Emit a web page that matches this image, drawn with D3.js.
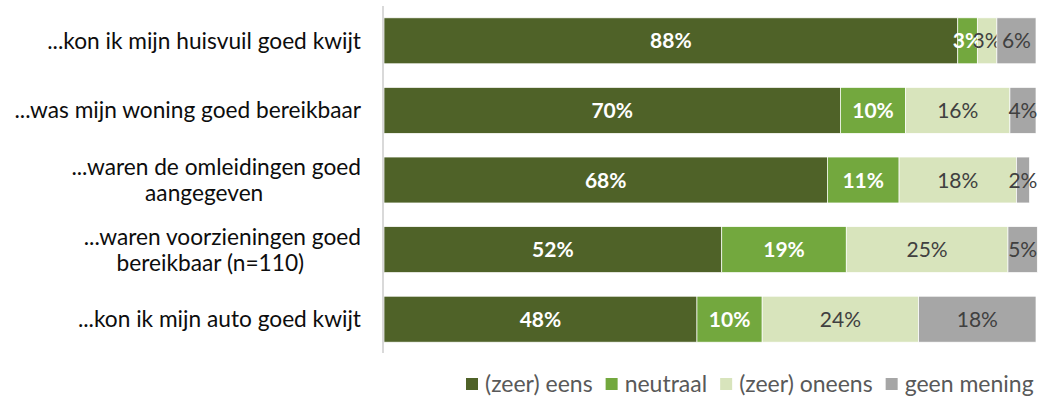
<!DOCTYPE html>
<html>
<head>
<meta charset="utf-8">
<script src="https://d3js.org/d3.v7.min.js"></script>
<style>
  body { margin: 0; background: #fff; }
  svg { font-family: Lato, "Open Sans", sans-serif; }
  .cat { font-size: 22.7px; fill: #0d0d0d; }
  .val { font-size: 21px; }
  .leg { font-size: 23px; fill: #595959; }
</style>
</head>
<body>
<svg width="1039" height="397"></svg>
<script>
// categories (each line of a wrapped label is a separate entry)
var categories = [
  ["...kon ik mijn huisvuil goed kwijt"],
  ["...was mijn woning goed bereikbaar"],
  ["...waren de omleidingen goed", "aangegeven"],
  ["...waren voorzieningen goed", "bereikbaar (n=110)"],
  ["...kon ik mijn auto goed kwijt"]
];
var series = ["(zeer) eens", "neutraal", "(zeer) oneens", "geen mening"];
// percentages per category, same order as series
var eens     = [88, 70, 68, 51.8, 48];
var neutraal = [3, 10, 11, 19.1, 10];
var oneens   = [3, 16, 18, 24.8, 24];
var geen     = [6, 4, 2, 4.5, 18];

var colors = ["#4F6228", "#73A83E", "#D8E4BC", "#A6A6A6"];
var labelColors = ["#fff", "#fff", "#404040", "#404040"];
var labelWeights = ["bold", "bold", "normal", "normal"];

var svg = d3.select("svg");

var rows = categories.map(function(c, i) {
  return { i: i, lines: c, eens: eens[i], neutraal: neutraal[i], oneens: oneens[i], geen: geen[i] };
});
var keys = ["eens", "neutraal", "oneens", "geen"];
var stacked = d3.stack().keys(keys)(rows);

var x = d3.scaleLinear().domain([0, 100]).range([384, 1036]);
var y = d3.scaleBand().domain(d3.range(categories.length)).range([6, 354]).paddingInner(0.34).paddingOuter(0.17);

// bars
var layer = svg.selectAll("g.layer")
  .data(stacked)
  .enter().append("g")
  .attr("class", "layer");

layer.selectAll("rect")
  .data(function(d) { return d; })
  .enter().append("rect")
  .attr("x", function(d) { return x(d[0]); })
  .attr("y", function(d) { return y(d.data.i); })
  .attr("width", function(d) { return x(d[1]) - x(d[0]); })
  .attr("height", y.bandwidth())
  .attr("fill", function(d) { return colors[d3.select(this.parentNode).datum().index]; })
  .attr("stroke", "#fff")
  .attr("stroke-width", 0.7);

// value labels
layer.each(function(s) {
  d3.select(this).selectAll("text")
    .data(s)
    .enter().append("text")
    .attr("class", "val")
    .attr("x", function(d) { return (x(d[0]) + x(d[1])) / 2; })
    .attr("y", function(d) { return y(d.data.i) + y.bandwidth() / 2; })
    .attr("dy", "0.36em")
    .attr("text-anchor", "middle")
    .attr("fill", labelColors[s.index])
    .attr("font-weight", labelWeights[s.index])
    .text(function(d) { return Math.round(d[1] - d[0]) + "%"; });
});

// axis line
svg.append("line")
  .attr("x1", 383).attr("x2", 383)
  .attr("y1", 6).attr("y2", 353)
  .attr("stroke", "#D9D9D9")
  .attr("stroke-width", 2);

// category labels
rows.forEach(function(r) {
  var cy = y(r.i) + y.bandwidth() / 2;
  var g = svg.append("g");
  var n = r.lines.length;
  var first = g.append("text").attr("class", "cat")
    .attr("text-anchor", "end")
    .attr("x", 361)
    .attr("y", cy - (n - 1) * 13)
    .attr("dy", "0.35em")
    .text(r.lines[0]);
  if (n > 1) {
    var w = first.node().getComputedTextLength();
    g.append("text").attr("class", "cat")
      .attr("text-anchor", "middle")
      .attr("x", 361 - w / 2 - 12)
      .attr("y", cy + 13)
      .attr("dy", "0.35em")
      .text(r.lines[1]);
  }
});

// legend
var legend = svg.append("g").attr("transform", "translate(0,384)");
var lx = 466;
series.forEach(function(s, i) {
  legend.append("rect")
    .attr("x", lx).attr("y", -6)
    .attr("width", 12).attr("height", 12)
    .attr("fill", colors[i]);
  var t = legend.append("text").attr("class", "leg")
    .attr("x", lx + 19).attr("y", 0).attr("dy", "0.35em")
    .text(s);
  lx += 19 + t.node().getComputedTextLength() + 13;
});
</script>
</body>
</html>
